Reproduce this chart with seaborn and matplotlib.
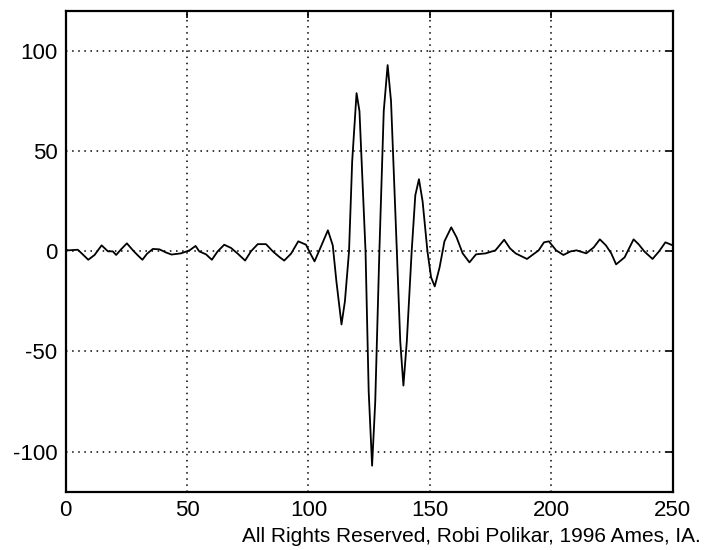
import numpy as np
import pandas as pd
import seaborn as sns
import matplotlib.pyplot as plt

# Signal (sample index vs amplitude)
t = [0, 1, 5, 7, 9.3, 11.9, 14.8, 17.4, 19.4, 20.8, 22.8, 25.2, 27.7, 29.7, 31.6,
     33.5, 35.9, 38.6, 41.4, 43.6, 47.5, 51, 53.5, 55, 57.8, 60.2, 62.6, 65.3,
     68.1, 70.9, 73.9, 76.3, 79.1, 82.5, 85.3, 88, 90, 92.8, 95.8, 99, 100.3,
     102.5, 105, 108, 110, 111.5, 113.6, 115, 116.7, 118, 119.8, 121, 123.5,
     124.8, 126.2, 127.5, 129.2, 131, 132.6, 134, 136.4, 137.8, 139.1, 140.5,
     142.5, 144, 145.5, 147, 149, 150.5, 152, 154, 156, 158.8, 161, 163.5,
     166.3, 169, 173, 177, 180.6, 183, 185.3, 190, 194.8, 197, 199, 202, 205,
     208, 210.4, 214.4, 217.5, 220, 222.5, 224.7, 226.7, 230.2, 233.9, 236,
     238.3, 241.7, 244.4, 247, 250]
amp = [1, 0.5, 0.8, -1.5, -4.2, -1.8, 3, 0, 0, -1.8, 1, 4, 0.5, -2, -4.2,
       -1.2, 1.2, 1, -0.6, -1.6, -1, 0.5, 2.7, 0, -1.5, -4.2, 0, 3.3,
       1.7, -1.2, -4.6, 0, 3.6, 3.6, 0, -2.8, -4.6, -1.2, 5, 3.3, 0,
       -5, 2, 10.5, 3, -15, -36.5, -25, 0, 45, 79, 70, 0,
       -70, -107, -75, 0, 70, 93, 75, 0, -45, -67, -45,
       0, 28, 36, 25, 0, -13, -17.5, -8, 5, 12, 7, -1,
       -5.5, -1.5, -1, 0.5, 5.8, 1.5, -1, -3.8, 0.5, 4.5, 5, 0.5, -1.8,
       0, 0.5, -1, 2, 6, 3, -1, -6.5, -3, 6, 3.5,
       0, -3.8, 0, 4.5, 3]

xticks = [0, 50, 100, 150, 200, 250]
yticks = [-100, -50, 0, 50, 100]
footer = "All Rights Reserved, Robi Polikar, 1996 Ames, IA."

df = pd.DataFrame({"t": t, "amp": amp})

sns.set_style("white")
plt.rcParams['font.family'] = ['Liberation Sans', 'DejaVu Sans']
plt.rcParams['axes.unicode_minus'] = False

fig = plt.figure(figsize=(7.04, 5.5), dpi=100)
ax = fig.add_axes([0.0933, 0.106, 0.8622, 0.874])

sns.lineplot(data=df, x="t", y="amp", color="black", linewidth=1.3,
             estimator=None, sort=False, ax=ax)

ax.set_xlim(0, 250)
ax.set_ylim(-120, 120)
ax.set_xticks(xticks)
ax.set_yticks(yticks)
ax.set_xlabel("")
ax.set_ylabel("")
ax.grid(True, linestyle=(0, (1, 3)), color="black", linewidth=1.1)
ax.tick_params(direction="in", length=5, width=1.2, colors="black",
               labelsize=16, top=True, right=True, pad=6)
for s in ax.spines.values():
    s.set_color("black")
    s.set_linewidth(1.6)

fig.text(0.995, 0.0145, footer, ha="right", va="baseline", fontsize=15,
         color="black")

fig.savefig("out.png", dpi=100)
